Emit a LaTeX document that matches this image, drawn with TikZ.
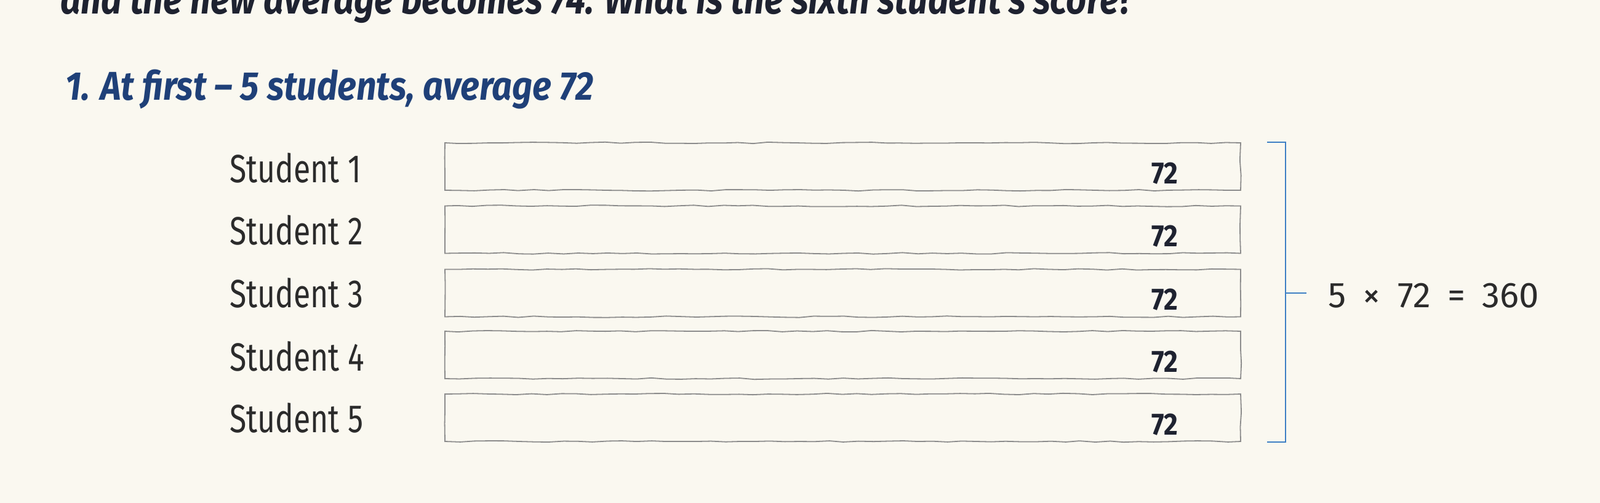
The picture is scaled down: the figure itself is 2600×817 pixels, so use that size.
\documentclass[tikz,border=0pt]{standalone}
\usepackage{fontspec}
\setmainfont{Fira Sans}
\newfontfamily\hand[FakeStretch=0.78]{Fira Sans}
\newfontfamily\handw[FakeStretch=0.88]{Fira Sans}
\newfontfamily\handq[FakeStretch=0.85]{Fira Sans}
\usetikzlibrary{decorations.pathmorphing,calc}
\definecolor{bg}{HTML}{FAF8F0}
\definecolor{ink}{HTML}{1E2230}
\definecolor{head}{HTML}{1F4078}
\definecolor{lbl}{HTML}{2B2B2B}
\definecolor{boxline}{HTML}{8C8C8C}
\definecolor{brk}{HTML}{3D7FC4}
\tikzset{
  rowbox/.style={draw=boxline, line width=0.9pt, minimum width=646.5pt, minimum height=38.5pt,
    inner sep=0pt, decorate, decoration={random steps, segment length=12pt, amplitude=0.6pt}},
  stud/.style={anchor=base west, inner sep=0pt, text=lbl, font=\hand\fontsize{32}{38}\selectfont},
  val/.style={inner sep=0pt, text=ink, font=\handw\bfseries\fontsize{25}{30}\selectfont},
  bracket/.style={draw=brk, line width=1.1pt},
}
\begin{document}
\begin{tikzpicture}[x=0.5pt,y=-0.5pt]
\useasboundingbox[fill=bg] (0,0) rectangle (2600,817);
\clip (0,0) rectangle (2600,817);
\node[anchor=base west, inner sep=0pt, text=ink, font=\handq\bfseries\itshape\fontsize{34}{40}\selectfont] (q) at (98,23) {and the new average becomes 74. What is the sixth student's score?};
\node[anchor=base west, inner sep=0pt, text=head, font=\handw\bfseries\itshape\fontsize{32.6}{38}\selectfont] (h) at (106,163) {1. At first – 5 students, average 72};
\node[rowbox] (b1) at (1369.5,270.5) {};
\node[rowbox] (b2) at (1369.5,373) {};
\node[rowbox] (b3) at (1369.5,476) {};
\node[rowbox] (b4) at (1369.5,576.5) {};
\node[rowbox] (b5) at (1369.5,678.5) {};
\node[stud] (s1) at (373,297) {Student 1};
\node[stud] (s2) at (373,398) {Student 2};
\node[stud] (s3) at (373,500) {Student 3};
\node[stud] (s4) at (373,602) {Student 4};
\node[stud] (s5) at (373,702) {Student 5};
\foreach \i in {1,...,5}{
  \node[val] (v\i) at ($(b\i.center)+(523,11)$) {72};
}
\coordinate (bt) at ($(b1.north east)+(72,0)$);
\coordinate (bb) at ($(b5.south east)+(72,0)$);
\coordinate (bm) at ($(b3.east)+(72,0)$);
\draw[bracket] ($(bt)+(-30,0)$) -- (bt) -- (bb) -- ($(bb)+(-30,0)$);
\draw[bracket] (bm) -- ($(bm)+(34,0)$);
\node[anchor=base west, inner sep=0pt, text=lbl, font=\fontsize{29}{34}\selectfont] (eq) at (2158,500) {5\hspace{6pt} × \hspace{6pt}72\hspace{6pt} = \hspace{6pt}360};
\end{tikzpicture}
\end{document}
